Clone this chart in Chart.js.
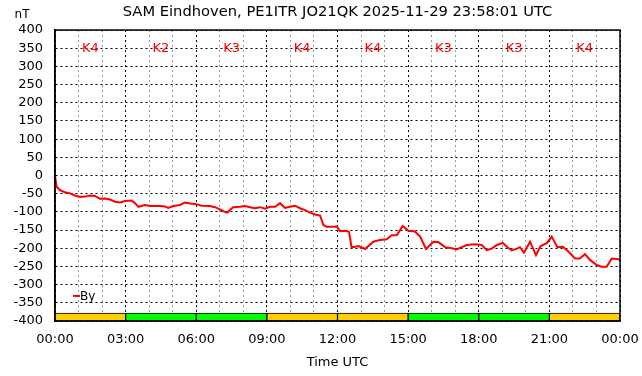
<!DOCTYPE html>
<html>
<head>
<meta charset="utf-8">
<script src="https://cdn.jsdelivr.net/npm/chart.js@4.4.0/dist/chart.umd.min.js"></script>
<style>
  html, body { margin: 0; background: #fff; }
  #wrap { width: 642px; height: 376px; }
</style>
</head>
<body>
<div id="wrap"><canvas id="sam"></canvas></div>
<script>
"use strict"

// By component, hours since 00:00 UTC and nT
const hours = [0, 0.07, 0.21, 0.42, 0.64, 0.85, 1.06, 1.27, 1.49, 1.70, 1.91, 2.12, 2.34, 2.55, 2.76, 2.97,
  3.26, 3.40, 3.54, 3.82, 4.04, 4.46, 4.67, 4.81, 5.03, 5.31, 5.52, 5.73, 5.95, 6.23, 6.58, 6.80,
  7.01, 7.22, 7.32, 7.43, 7.57, 7.86, 8.07, 8.28, 8.50, 8.71, 8.92, 9.13, 9.35, 9.56, 9.77, 9.98,
  10.20, 10.41, 10.62, 10.83, 11.04, 11.26, 11.40, 11.54, 11.75, 11.97, 12.11, 12.32, 12.49, 12.60,
  12.88, 13.17, 13.52, 13.81, 14.09, 14.30, 14.52, 14.77, 15.01, 15.29, 15.51, 15.76, 15.93, 16.07,
  16.28, 16.57, 16.78, 17.06, 17.28, 17.49, 17.84, 18.13, 18.34, 18.55, 18.77, 19.02, 19.19, 19.40,
  19.62, 19.75, 19.92, 20.18, 20.43, 20.63, 20.89, 21.10, 21.34, 21.57, 21.81, 22.09, 22.30, 22.51,
  22.73, 23.01, 23.22, 23.43, 23.65, 23.93, 24.00];
const byValues = [0, -31, -40, -46, -49, -55, -59, -58, -55, -56, -64, -63, -66, -72, -74, -70,
  -69, -76, -86, -81, -84, -84, -85, -89, -84, -81, -74, -77, -78, -83, -84, -87,
  -93, -100, -102, -95, -87, -86, -84, -87, -90, -87, -91, -86, -86, -76, -89, -86,
  -83, -90, -95, -102, -107, -110, -136, -141, -141, -140, -153, -152, -155, -198,
  -194, -202, -182, -177, -175, -164, -164, -139, -152, -154, -168, -202, -191, -182,
  -183, -197, -199, -203, -197, -191, -189, -191, -205, -201, -191, -185, -196, -206,
  -201, -197, -212, -182, -219, -194, -186, -168, -197, -196, -209, -228, -228, -216,
  -232, -246, -251, -251, -228, -230, -232];

// K index per 3 hour block
const kHours = [1.5, 4.5, 7.5, 10.5, 13.5, 16.5, 19.5, 22.5];
const kIndex = [4, 2, 3, 4, 4, 3, 3, 4];

const yTicks = { min: -400, max: 400, step: 50 };
const FONT = "DejaVu Sans";

function hourLabel(v) {
  const h = v % 24;
  return (h < 10 ? "0" : "") + h + ":00";
}

// K labels, legend, frame and "nT"
const extras = {
  id: "extras",
  afterDraw(chart) {
    const ctx = chart.ctx;
    const x = chart.scales.x;
    const y = chart.scales.y;
    const area = chart.chartArea;
    ctx.save();

    ctx.font = "13px " + FONT;
    ctx.fillStyle = "#f00";
    ctx.textAlign = "center";
    ctx.textBaseline = "middle";
    for (let i = 0; i < kHours.length; i++) {
      ctx.fillText("K" + kIndex[i], x.getPixelForValue(kHours[i]), y.getPixelForValue(350));
    }

    // legend
    const lx = area.left + 18;
    const ly = y.getPixelForValue(-331);
    ctx.strokeStyle = "#f00";
    ctx.lineWidth = 2;
    ctx.beginPath();
    ctx.moveTo(lx, ly);
    ctx.lineTo(lx + 7, ly);
    ctx.stroke();
    ctx.fillStyle = "#000";
    ctx.textAlign = "left";
    ctx.font = "12px " + FONT;
    ctx.fillText("By", lx + 7, ly + 1);

    ctx.font = "12px " + FONT;
    ctx.textAlign = "center";
    ctx.fillText("nT", 22, 15);

    ctx.strokeStyle = "#000";
    ctx.lineWidth = 1.5;
    ctx.strokeRect(area.left, area.top, area.right - area.left, area.bottom - area.top);
    ctx.restore();
  }
};

new Chart(document.getElementById("sam"), {
  data: {
    datasets: [
      {
        type: "line",
        label: "By",
        data: hours.map((h, i) => ({ x: h, y: byValues[i] })),
        borderColor: "#f00",
        borderWidth: 2,
        pointRadius: 0,
        tension: 0,
        order: 0,
      },
      {
        type: "bar",
        label: "K",
        data: kHours.map(h => ({ x: h, y: [-400, -378] })),
        backgroundColor: kIndex.map(k => (k >= 4 ? "#ffd000" : "#00ff00")),
        borderColor: "#000",
        borderWidth: 1,
        borderSkipped: false,
        barThickness: "flex",
        barPercentage: 1,
        categoryPercentage: 1,
        order: 1,
      },
    ],
  },
  options: {
    responsive: true,
    maintainAspectRatio: false,
    animation: false,
    layout: { padding: { right: 22 } },
    plugins: {
      legend: { display: false },
      tooltip: { enabled: false },
      title: {
        display: true,
        fullSize: false,
        text: "SAM Eindhoven, PE1ITR JO21QK 2025-11-29 23:58:01 UTC",
        color: "#000",
        font: { family: FONT, size: 14.7, weight: "normal" },
        padding: { top: 3, bottom: 9.4 },
      },
    },
    scales: {
      x: {
        type: "linear",
        min: 0,
        max: 24,
        offset: false,
        afterFit: s => {
          s.height = 55;
          s.paddingLeft = 0;
          s.paddingRight = 0;
        },
        ticks: {
          stepSize: 1,
          autoSkip: false,
          maxTicksLimit: 30,
          maxRotation: 0,
          color: "#000",
          padding: 11,
          font: { family: FONT, size: 13 },
          callback: v => (v % 3 === 0 ? hourLabel(v) : ""),
        },
        grid: {
          drawTicks: false,
          offset: false,
          lineWidth: 1,
          color: c => (c.tick && c.tick.value % 3 === 0 ? "#000" : "#999"),
        },
        border: { color: "#000", width: 1.5, dash: [2, 3] },
        title: {
          display: true,
          text: "Time UTC",
          color: "#000",
          font: { family: FONT, size: 13 },
          padding: { top: 0, bottom: 6 },
        },
      },
      y: {
        min: yTicks.min,
        max: yTicks.max,
        afterFit: s => { s.width = 55; },
        ticks: {
          stepSize: yTicks.step,
          autoSkip: false,
          maxTicksLimit: 30,
          color: "#000",
          padding: 12,
          font: { family: FONT, size: 13 },
        },
        grid: { drawTicks: false, color: "#000", lineWidth: 1 },
        border: { color: "#000", width: 1.5, dash: [2, 3] },
      },
    },
  },
  plugins: [extras],
});
</script>
</body>
</html>
